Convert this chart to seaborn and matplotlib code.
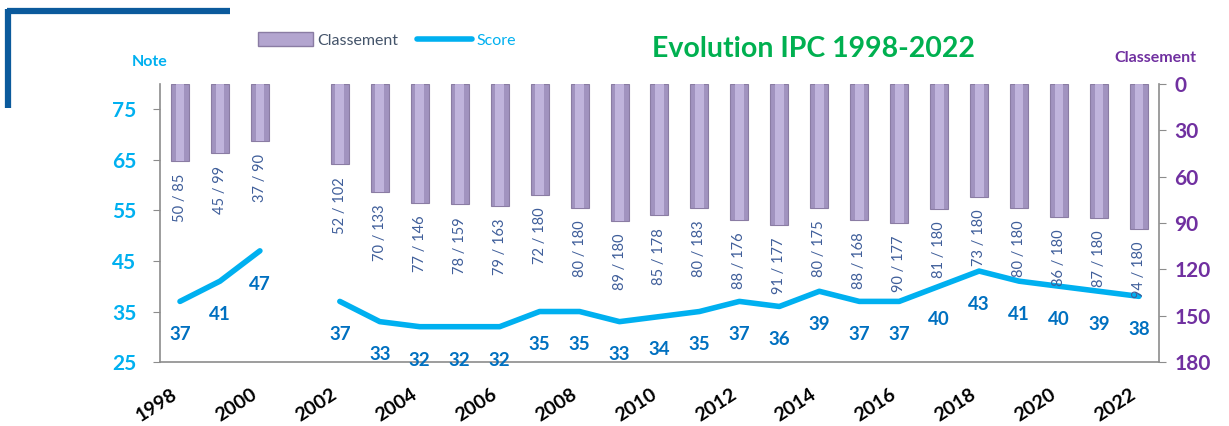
import numpy as np
import pandas as pd
import matplotlib.pyplot as plt
import matplotlib.transforms as mtransforms
import seaborn as sns
from matplotlib.patches import Patch
from matplotlib.lines import Line2D

sns.set_style("white")
plt.rcParams['font.family'] = ['Lato', 'DejaVu Sans']

# data (2001: no data)
years = [1998, 1999, 2000, 2001, 2002, 2003, 2004, 2005, 2006, 2007, 2008, 2009,
         2010, 2011, 2012, 2013, 2014, 2015, 2016, 2017, 2018, 2019, 2020, 2021, 2022]
score = [37, 41, 47, np.nan, 37, 33, 32, 32, 32, 35, 35, 33,
         34, 35, 37, 36, 39, 37, 37, 40, 43, 41, 40, 39, 38]
rank = [50, 45, 37, np.nan, 52, 70, 77, 78, 79, 72, 80, 89,
        85, 80, 88, 91, 80, 88, 90, 81, 73, 80, 86, 87, 94]
n_countries = [85, 99, 90, np.nan, 102, 133, 146, 159, 163, 180, 180, 180,
               178, 183, 176, 177, 175, 168, 177, 180, 180, 180, 180, 180, 180]

df = pd.DataFrame({"year": [str(y) for y in years], "score": score,
                   "rank": rank, "n": n_countries})
df["pos"] = np.arange(len(df))
# segment id so the line breaks at the missing year
df["segment"] = df["score"].isna().cumsum()

NOTE_C = "#00B0F0"
RANK_C = "#7030A0"
LABEL_C = "#0070C0"

fig = plt.figure(figsize=(12.29, 4.26), dpi=100)
ax = fig.add_axes([0.1302, 0.150, 0.8128, 0.653])
ax2 = ax.twinx()

# bars for the ranking (right axis, inverted)
order = df["year"].tolist()
sns.barplot(data=df, x="year", y="rank", order=order, ax=ax2, width=0.45,
            color="#A193BF", saturation=1, edgecolor="#8A7CA3", linewidth=0.8)
sns.barplot(data=df, x="year", y="rank", order=order, ax=ax2, width=0.22,
            color="#C6BAE2", saturation=1, alpha=0.85, linewidth=0)
ax2.set_ylim(180, 0)
ax2.set_yticks(range(0, 181, 30))
ax2.set_ylabel("")
ax2.set_xlabel("")

for _, r in df.dropna().iterrows():
    ax2.annotate(f"{int(r['rank'])} / {int(r['n'])}", xy=(r["pos"], r["rank"]),
                 xytext=(0, -9), textcoords="offset points", rotation=90,
                 ha="center", va="top", fontsize=10.5, color="#3F5E9A")

# score line (left axis)
sns.lineplot(data=df.dropna(subset=["score"]), x="pos", y="score", units="segment",
             estimator=None, ax=ax, color=NOTE_C, linewidth=4, legend=False)
ax.set_ylim(25, 80)
ax.set_yticks(range(25, 76, 10))
ax.set_xlim(-0.5, len(df) - 0.5)
ax.set_ylabel("")
ax.set_xlabel("")

for _, r in df.dropna(subset=["score"]).iterrows():
    ax.annotate(f"{int(r['score'])}", xy=(r["pos"], r["score"]),
                xytext=(0, -24), textcoords="offset points",
                ha="center", va="center", fontsize=13.5, fontweight="bold", color=LABEL_C)

# x axis: labels every 2 years, tick marks between categories
ax.set_xticks(df["pos"][::2])
ax.set_xticklabels(df["year"][::2], rotation=33, ha="right",
                   fontsize=14, fontweight="bold", color="black")
shift = mtransforms.ScaledTranslation(-6 / 100, 0, fig.dpi_scale_trans)
for t in ax.get_xticklabels():
    t.set_transform(t.get_transform() + shift)
ax.set_xticks(np.arange(-0.5, len(df), 1), minor=True)
ax.tick_params(axis="x", which="major", length=0, pad=17)
ax.tick_params(axis="x", which="minor", length=5, color="#8C8C8C", direction="out")

ax.tick_params(axis="y", length=5, color="#8C8C8C", direction="out", pad=12)
for t in ax.get_yticklabels():
    t.set_fontsize(15)
    t.set_fontweight("bold")
    t.set_color(NOTE_C)
ax2.tick_params(axis="y", length=5, color="#8C8C8C", direction="out", pad=6)
for t in ax2.get_yticklabels():
    t.set_fontsize(15)
    t.set_fontweight("bold")
    t.set_color(RANK_C)

for a in (ax, ax2):
    a.spines["top"].set_visible(False)
    for s in ("left", "right", "bottom"):
        a.spines[s].set_color("#8C8C8C")
        a.spines[s].set_linewidth(1.2)
ax.spines["right"].set_visible(False)
ax2.spines["left"].set_visible(False)
ax2.spines["bottom"].set_visible(False)

# titles and axis captions
fig.text(0.662, 0.885, "Evolution IPC 1998-2022", ha="center", va="center",
         fontsize=20.5, fontweight="bold", color="#00B050")
fig.text(0.122, 0.855, "Note", ha="center", va="center",
         fontsize=11.5, fontweight="bold", color=NOTE_C)
fig.text(0.940, 0.864, "Classement", ha="center", va="center",
         fontsize=11.5, fontweight="bold", color=RANK_C)

handles = [Patch(facecolor="#B3A5CF", edgecolor="#8A7CA3"),
           Line2D([0], [0], color=NOTE_C, lw=4)]
leg = fig.legend(handles, ["Classement", "Score"], loc="center", ncol=2,
                 bbox_to_anchor=(0.315, 0.906), frameon=False, fontsize=11.5,
                 handlelength=3.4, handleheight=0.9, columnspacing=1.2, handletextpad=0.3)
leg.get_texts()[0].set_color("#44546A")
leg.get_texts()[1].set_color(NOTE_C)

# decorative corner bracket
fig.add_artist(Line2D([0.006, 0.187], [0.974, 0.974], color="#0B5A9C", lw=4.5,
                      solid_capstyle="butt", transform=fig.transFigure))
fig.add_artist(Line2D([0.0065, 0.0065], [0.978, 0.747], color="#0B5A9C", lw=4.5,
                      solid_capstyle="butt", transform=fig.transFigure))

fig.savefig("out.png", dpi=100)
